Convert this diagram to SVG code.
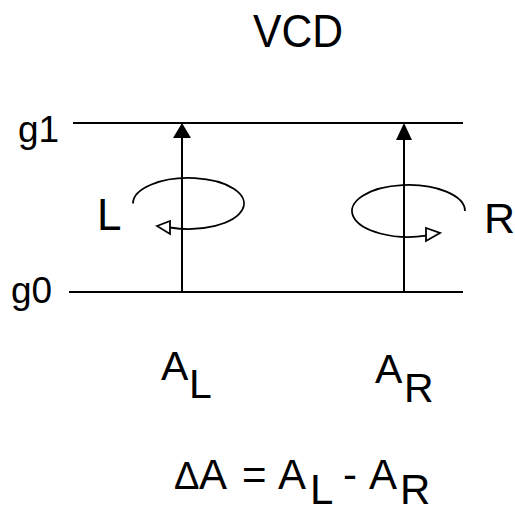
<svg xmlns="http://www.w3.org/2000/svg" width="515" height="514" viewBox="0 0 515 514">
<defs>
<style>
text{font-family:"Liberation Sans",Arial,sans-serif;fill:#000}
.ln{stroke:#000;stroke-width:2;fill:none}
.loop{stroke:#000;stroke-width:1.8;fill:none}
.head{fill:#000;stroke:none}
.open{fill:#fff;stroke:#000;stroke-width:1.8;stroke-linejoin:miter}
</style>
</defs>
<rect width="515" height="514" fill="#fff"/>
<g id="title"><text x="253" y="47" font-size="47" textLength="90" lengthAdjust="spacingAndGlyphs">VCD</text></g>
<g id="level-g1">
<text x="18" y="142" font-size="37">g1</text>
<line class="ln" x1="73" y1="123" x2="463" y2="123"/>
</g>
<g id="level-g0">
<text x="11" y="303" font-size="37">g0</text>
<line class="ln" x1="69" y1="292" x2="463" y2="292"/>
</g>
<g id="label-L"><text x="97" y="230" font-size="44">L</text></g>
<g id="label-R"><text x="484" y="233" font-size="43">R</text></g>
<g id="label-AL"><text x="161" y="380" font-size="41">A<tspan x="189" dy="18">L</tspan></text></g>
<g id="label-AR"><text x="375" y="383" font-size="41">A<tspan x="404" dy="19">R</tspan></text></g>
<g id="formula"><text y="489" font-size="42"><tspan x="174" font-size="38">Δ</tspan><tspan x="199">A</tspan><tspan x="242">=</tspan><tspan x="278">A</tspan><tspan x="310" dy="15">L</tspan><tspan x="343" dy="-15">-</tspan><tspan x="369">A</tspan><tspan x="400" dy="15">R</tspan></text></g>
<g id="connectors">
<line class="ln" x1="182" y1="292" x2="182" y2="136"/>
<polygon class="head" points="182,123 173,138 191,138"/>
<line class="ln" x1="404" y1="292" x2="404" y2="138"/>
<polygon class="head" points="404,123 396,140 412,140"/>
<path class="loop" d="M133,203.5 A55.5,25.5 0 1 1 170,227.5"/>
<polygon class="open" points="157,226 170,221 170,234"/>
<path class="loop" d="M465,211 A56.5,26 0 1 0 426,235.7"/>
<polygon class="open" points="426,228 426,241 440,233"/>
</g>
</svg>
